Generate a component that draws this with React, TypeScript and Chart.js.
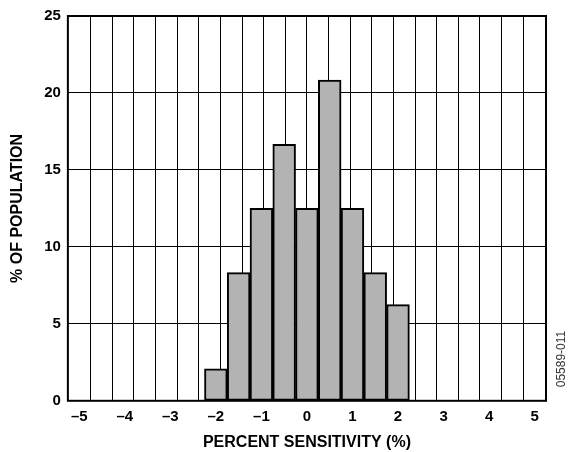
import React, { useEffect, useRef } from "react";
import { Chart, registerables } from "chart.js";
Chart.register(...registerables);

const binCenters = [-2, -1.5, -1, -0.5, 0, 0.5, 1, 1.5, 2];
const populationPct = [2.08, 8.33, 12.5, 16.67, 12.5, 20.83, 12.5, 8.33, 6.25];
const xTickValues = [-5, -4, -3, -2, -1, 0, 1, 2, 3, 4, 5];
const yTickValues = [0, 5, 10, 15, 20, 25];
const xMin = -5.25;
const xMax = 5.25;
const binWidth = 0.5;
const xTitle = "PERCENT SENSITIVITY (%)";
const yTitle = "% OF POPULATION";
const figureId = "05589-011";

const FONT = "'Liberation Sans', Arial, sans-serif";

export default function App() {
  const ref = useRef<HTMLCanvasElement | null>(null);
  useEffect(() => {
    document.body.style.margin = "0";
    const gridValues: number[] = [];
    for (let v = xMin + binWidth; v < xMax - 1e-9; v += binWidth) gridValues.push(Math.round(v * 100) / 100);

    const framePlugin = {
      id: "frame",
      afterDraw(chart: any) {
        const { ctx, chartArea } = chart;
        ctx.save();
        ctx.strokeStyle = "#000";
        ctx.lineWidth = 2;
        ctx.strokeRect(chartArea.left, chartArea.top, chartArea.right - chartArea.left, chartArea.bottom - chartArea.top);
        ctx.translate(562, 359);
        ctx.rotate(-Math.PI / 2);
        ctx.fillStyle = "#333";
        ctx.font = `12px ${FONT}`;
        ctx.textAlign = "center";
        ctx.textBaseline = "middle";
        ctx.fillText(figureId, 0, 0);
        ctx.restore();
      },
    };

    const chart = new Chart(ref.current!, {
      type: "bar",
      data: {
        datasets: [
          {
            data: binCenters.map((x, i) => ({ x, y: populationPct[i] })),
            backgroundColor: "#b3b3b3",
            borderColor: "#000",
            borderWidth: 2,
            borderSkipped: false,
            barPercentage: 1,
            categoryPercentage: 1,
            xAxisID: "x",
            yAxisID: "y",
          } as any,
        ],
      },
      options: {
        animation: false,
        responsive: true,
        maintainAspectRatio: false,
        layout: { padding: { top: 7, right: 22, left: 8, bottom: 0 } },
        plugins: { legend: { display: false }, tooltip: { enabled: false } },
        scales: {
          x: {
            type: "linear",
            min: xMin,
            max: xMax,
            offset: false,
            afterBuildTicks: (s: any) => {
              s.ticks = xTickValues.map((v) => ({ value: v }));
            },
            grid: { display: false, drawTicks: false },
            border: { display: false },
            ticks: {
              color: "#000",
              font: { family: FONT, size: 15, weight: "bold" },
              padding: 7,
              maxRotation: 0,
              autoSkip: false,
              callback: (v: any) => (Number(v) < 0 ? "\u2013" + Math.abs(Number(v)) : String(v)),
            },
            title: {
              display: true,
              text: xTitle,
              color: "#000",
              font: { family: FONT, size: 16, weight: "bold" },
              padding: { top: 0, bottom: 0 },
            },
          },
          xGrid: {
            type: "linear",
            position: "top",
            min: xMin,
            max: xMax,
            afterBuildTicks: (s: any) => {
              s.ticks = gridValues.map((v) => ({ value: v }));
            },
            grid: { display: true, color: "#000", lineWidth: 1, drawTicks: false },
            border: { display: false },
            ticks: { display: false },
          },
          y: {
            type: "linear",
            min: 0,
            max: 25,
            afterBuildTicks: (s: any) => {
              s.ticks = yTickValues.map((v) => ({ value: v }));
            },
            grid: { color: "#000", lineWidth: 1, drawTicks: false },
            border: { display: false },
            ticks: {
              color: "#000",
              font: { family: FONT, size: 15, weight: "bold" },
              padding: 7,
            },
            title: {
              display: true,
              text: yTitle,
              color: "#000",
              font: { family: FONT, size: 16, weight: "bold" },
              padding: { top: 0, bottom: 10 },
            },
          },
        },
      } as any,
      plugins: [framePlugin],
    });
    return () => chart.destroy();
  }, []);
  return (
    <div style={{ width: 568, height: 452, position: "relative" }}>
      <canvas ref={ref} />
    </div>
  );
}
